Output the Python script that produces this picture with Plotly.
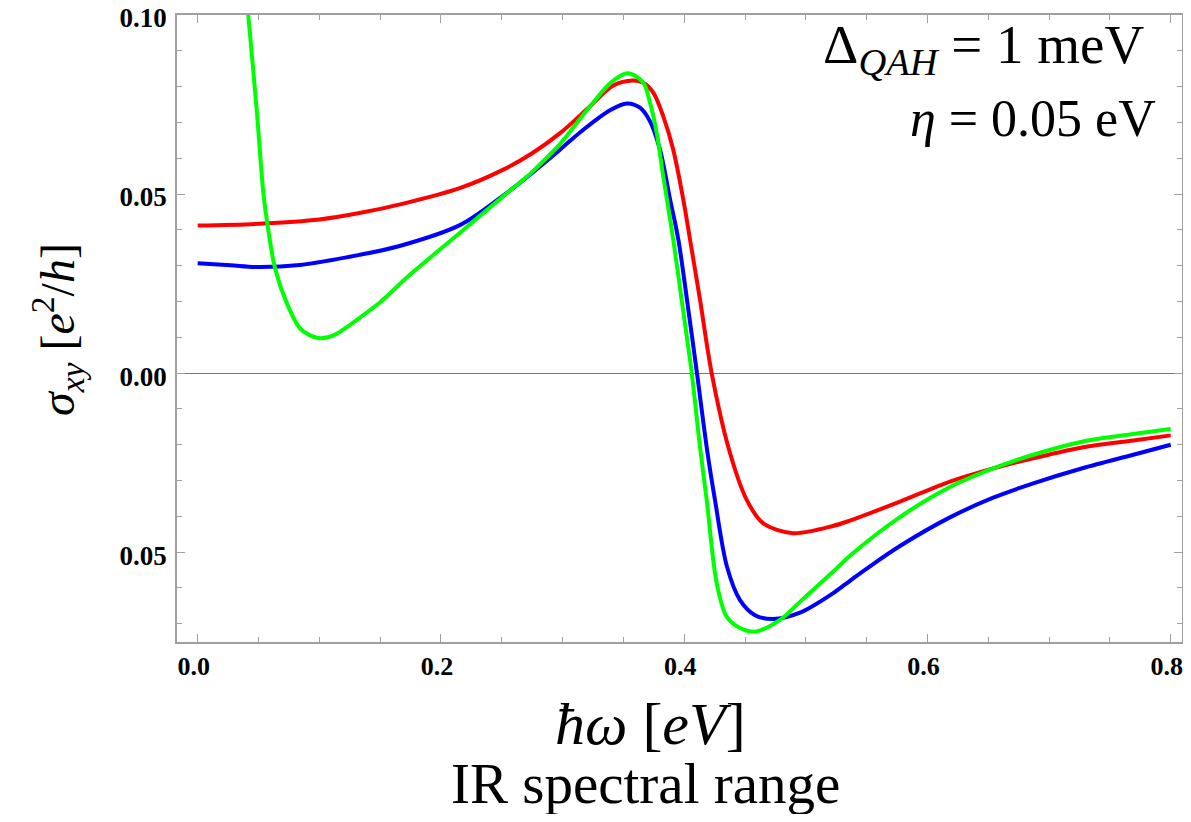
import plotly.graph_objects as go

# hbar*omega [eV] and sigma_xy [e^2/h]
red_x = [0.000, 0.050, 0.100, 0.133, 0.170, 0.216, 0.250, 0.275, 0.298, 0.3226, 0.3417, 0.3579, 0.3664, 0.3746,
         0.3828, 0.3910, 0.3993, 0.4048, 0.4130, 0.4226, 0.4369, 0.4514, 0.4648, 0.4894, 0.5223, 0.5363,
         0.5774, 0.6185, 0.6541, 0.6870, 0.7281, 0.7693, 0.800]
red_y = [0.0412, 0.0417, 0.0429, 0.0447, 0.0474, 0.0517, 0.0566, 0.0614, 0.0670, 0.0745, 0.0803, 0.0817, 0.0811, 0.0783,
         0.0717, 0.0624, 0.0484, 0.0373, 0.0205, 0.0000, -0.0214, -0.0354, -0.0419, -0.0447, -0.0427, -0.0412,
         -0.0359, -0.0303, -0.0266, -0.0238, -0.0207, -0.0188, -0.0174]

blue_x = [0.000, 0.027, 0.051, 0.084, 0.133, 0.166, 0.216, 0.249, 0.2732, 0.2979, 0.3143, 0.339, 0.3530, 0.3637,
          0.3719, 0.3801, 0.3884, 0.3952, 0.4023, 0.4105, 0.4188, 0.4253, 0.4352, 0.4459, 0.4582, 0.4730, 0.4952,
          0.5223, 0.5363, 0.5501, 0.5774, 0.6185, 0.6541, 0.6870, 0.7281, 0.7693, 0.800]
blue_y = [0.0307, 0.0301, 0.0296, 0.0302, 0.0330, 0.0355, 0.0414, 0.0490, 0.0554, 0.0624, 0.0672, 0.0734, 0.0753, 0.0741,
          0.0703, 0.0624, 0.0485, 0.0373, 0.0205, 0.0000, -0.0214, -0.0354, -0.0541, -0.0634, -0.0676, -0.0687, -0.0669,
          -0.0615, -0.0580, -0.0546, -0.0483, -0.0403, -0.0348, -0.0308, -0.0265, -0.0228, -0.0200]

green_x = [0.040, 0.0416, 0.0485, 0.054, 0.0572, 0.0636, 0.0732, 0.0841, 0.0920, 0.0992, 0.1070, 0.1143, 0.1334,
           0.150, 0.1747, 0.2157, 0.2569, 0.2733, 0.280, 0.298, 0.3226, 0.340, 0.3538, 0.3664, 0.3719, 0.3774,
           0.3828, 0.3910, 0.3979, 0.4062, 0.4130, 0.4185, 0.4267, 0.4349, 0.4459, 0.4582, 0.4788, 0.4952, 0.5223,
           0.5363, 0.5774, 0.6185, 0.6541, 0.6870, 0.7281, 0.7693, 0.800]
green_y = [0.106, 0.1000, 0.0736, 0.0503, 0.0419, 0.0293, 0.0196, 0.0125, 0.0106, 0.0098, 0.0100, 0.0110, 0.0155,
           0.0198, 0.0275, 0.0392, 0.0510, 0.0556, 0.0578, 0.0640, 0.0745, 0.0812, 0.0837, 0.0811, 0.0755, 0.0671,
           0.0549, 0.0373, 0.0205, 0.0000, -0.0206, -0.0354, -0.0586, -0.0680, -0.0712, -0.0722, -0.0689, -0.0639, -0.0555,
           -0.0510, -0.0402, -0.0318, -0.0266, -0.0228, -0.0191, -0.0170, -0.0156]

x_ticks = [0.0, 0.2, 0.4, 0.6, 0.8]
x_ticktext = ["0.0", "0.2", "0.4", "0.6", "0.8"]
y_ticks = [-0.05, 0.0, 0.05, 0.10]
y_ticktext = ["0.05", "0.00", "0.05", "0.10"]

SERIF = "Liberation Serif"
FRAME = "#a0a0a0"

fig = go.Figure()
for xs, ys, col in [(red_x, red_y, "#FF0000"), (blue_x, blue_y, "#0000FF"), (green_x, green_y, "#00FF00")]:
    fig.add_trace(go.Scatter(x=xs, y=ys, mode="lines",
                             line=dict(color=col, width=4, shape="spline", smoothing=0.9),
                             showlegend=False, hoverinfo="skip"))

fig.update_xaxes(
    range=[-0.0170, 0.8093], tickvals=x_ticks, ticktext=x_ticktext, automargin=False,
    showline=True, mirror="ticks", linecolor=FRAME, linewidth=1.5,
    ticks="inside", tickcolor=FRAME, tickwidth=1, ticklen=8,
    showgrid=False, zeroline=False, ticklabeloverflow="allow", ticklabelshift=-4,
    tickfont=dict(family=SERIF, size=26, color="black", weight="bold"),
    minor=dict(ticks="inside", dtick=0.05, tick0=0, ticklen=5, tickcolor=FRAME, showgrid=False),
)
fig.update_yaxes(
    range=[-0.0751, 0.1], tickvals=y_ticks, ticktext=y_ticktext, automargin=False,
    showline=True, mirror="ticks", linecolor=FRAME, linewidth=1.5,
    ticks="inside", tickcolor=FRAME, tickwidth=1, ticklen=8,
    showgrid=False, ticklabeloverflow="allow", ticklabelshift=3,
    zeroline=True, zerolinecolor="#777777", zerolinewidth=1,
    tickfont=dict(family=SERIF, size=27, color="black", weight="bold"),
    ticklabelstandoff=3,
    minor=dict(ticks="inside", dtick=0.01, tick0=0, ticklen=5, tickcolor=FRAME, showgrid=False),
)

# page-pixel helpers (the page adds an 8px body margin, accounted for in the margins)
def px(page_x):
    return (page_x - 177) / 1005.0

def py(page_y):
    return (642 - page_y) / 627.0

fig.add_annotation(xref="paper", yref="paper", x=px(57), y=py(330), textangle=-90, showarrow=False,
                   text="<i>σ</i><sub><i>xy</i></sub> [<i>e</i><sup>2</sup>/<i>h</i>]",
                   font=dict(family=SERIF, size=48, color="black"), xanchor="center", yanchor="middle")
fig.add_annotation(xref="paper", yref="paper", x=px(650), y=py(724), showarrow=False,
                   text="<i>ħω</i> [<i>eV</i>]",
                   font=dict(family=SERIF, size=60, color="black"), xanchor="center", yanchor="middle")
fig.add_annotation(xref="paper", yref="paper", x=px(645), y=py(783), showarrow=False,
                   text="IR spectral range",
                   font=dict(family=SERIF, size=57, color="black"), xanchor="center", yanchor="middle")
fig.add_annotation(xref="paper", yref="paper", x=px(1146), y=py(48), showarrow=False,
                   text="Δ<sub><i>QAH</i></sub> = 1 meV",
                   font=dict(family=SERIF, size=55, color="black"), xanchor="right", yanchor="middle")
fig.add_annotation(xref="paper", yref="paper", x=px(1158), y=py(118), showarrow=False,
                   text="<i>η</i> = 0.05 eV",
                   font=dict(family=SERIF, size=52, color="black"), xanchor="right", yanchor="middle")

fig.update_layout(
    width=1175, height=806,
    margin=dict(l=169, r=1, t=7, b=172),
    paper_bgcolor="white", plot_bgcolor="white",
)

fig.write_html("out.html")
